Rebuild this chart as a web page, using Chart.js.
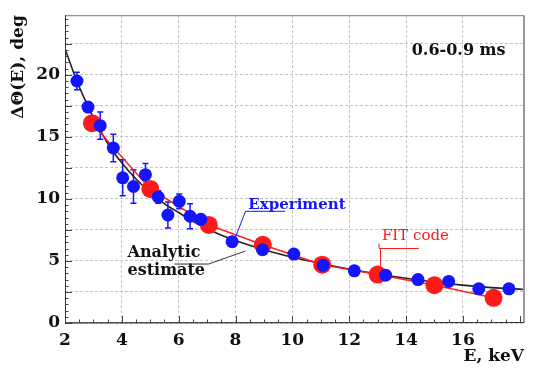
<!DOCTYPE html>
<html>
<head>
<meta charset="utf-8">
<script src="https://cdn.jsdelivr.net/npm/chart.js@4.4.1/dist/chart.umd.min.js"></script>
<style>
  html, body { margin: 0; padding: 0; background: #ffffff; }
  #wrap { width: 541px; height: 374px; }
</style>
</head>
<body>
<div id="wrap"><canvas id="c" width="541" height="374"></canvas></div>
<script>
// ---- data ----
const expE     = [2.42, 2.81, 3.24, 3.70, 4.03, 4.41, 4.83, 5.28, 5.62, 6.02, 6.40, 6.78, 7.88, 8.95, 10.05, 11.08, 12.18, 13.28, 14.42, 15.50, 16.56, 17.62];
const expTheta = [19.5, 17.4, 15.9, 14.1, 11.7, 11.0, 11.95, 10.15, 8.7, 9.8, 8.6, 8.35, 6.55, 5.9, 5.55, 4.65, 4.2, 3.85, 3.5, 3.35, 2.75, 2.75];
const expErr   = [0.7, 0.3, 1.1, 1.1, 1.45, 1.35, 0.9, 0.5, 1.05, 0.6, 1.0, 0.3, 0.2, 0.2, 0.2, 0.2, 0.2, 0.2, 0.2, 0.2, 0.2, 0.2];

const fitE     = [2.95, 5.0, 7.06, 8.96, 11.05, 13.0, 15.0, 17.08];
const fitTheta = [16.1, 10.8, 7.9, 6.3, 4.7, 3.9, 3.05, 2.03];

const anaE     = [2.0, 2.4, 2.8, 3.2, 3.6, 4.0, 4.5, 5.0, 5.5, 6.0, 6.5, 7.0, 7.8, 9.0, 10.0, 11.0, 12.0, 13.0, 14.0, 15.0, 16.0, 17.0, 18.15];
const anaTheta = [22.1, 19.6, 17.5, 15.7, 14.1, 12.9, 11.6, 10.5, 9.6, 8.9, 8.2, 7.6, 6.8, 5.9, 5.3, 4.8, 4.35, 3.95, 3.6, 3.3, 3.05, 2.85, 2.7];

const xTickVals = [2, 4, 6, 8, 10, 12, 14, 16];
const yTickVals = [0, 5, 10, 15, 20];

const xTitle = 'E, keV';
const yTitle = 'ΔΘ(E), deg';
const periodLabel = '0.6-0.9 ms';

const pts = (xs, ys) => xs.map((x, i) => ({ x: x, y: ys[i] }));

const FONT = '"DejaVu Serif", "Liberation Serif", serif';

// error bars + minor ticks + frame + annotations
const decorPlugin = {
  id: 'decor',
  beforeDatasetsDraw(chart) {
    const { ctx, scales: { x, y } } = chart;
    ctx.save();
    ctx.strokeStyle = '#1414ff';
    ctx.lineWidth = 1.5;
    expE.forEach((e, i) => {
      const px = x.getPixelForValue(e);
      const y1 = y.getPixelForValue(expTheta[i] + expErr[i]);
      const y2 = y.getPixelForValue(expTheta[i] - expErr[i]);
      ctx.beginPath();
      ctx.moveTo(px, y1); ctx.lineTo(px, y2);
      ctx.moveTo(px - 3, y1); ctx.lineTo(px + 3, y1);
      ctx.moveTo(px - 3, y2); ctx.lineTo(px + 3, y2);
      ctx.stroke();
    });
    ctx.restore();
  },
  afterDraw(chart) {
    const { ctx, chartArea: a, scales: { x, y } } = chart;
    ctx.save();
    // frame
    ctx.strokeStyle = '#777';
    ctx.lineWidth = 1;
    ctx.strokeRect(a.left + 0.5, a.top + 0.5, a.right - a.left - 1, a.bottom - a.top - 1);
    ctx.strokeStyle = '#999';
    ctx.lineWidth = 2;
    ctx.beginPath(); ctx.moveTo(a.right, a.top); ctx.lineTo(a.right, a.bottom); ctx.stroke();
    ctx.strokeStyle = '#333';
    ctx.lineWidth = 1;
    ctx.beginPath();
    ctx.moveTo(a.left + 0.5, a.top); ctx.lineTo(a.left + 0.5, a.bottom);
    ctx.lineTo(a.right, a.bottom - 0.5);
    ctx.stroke();
    // minor/major ticks inside
    ctx.strokeStyle = '#444';
    ctx.beginPath();
    for (let v = 0; v <= y.max + 1e-6; v += 0.5) {
      const py = Math.round(y.getPixelForValue(v)) + 0.5;
      const major = Math.abs(v / 2.5 - Math.round(v / 2.5)) < 1e-6;
      ctx.moveTo(a.left, py); ctx.lineTo(a.left + (major ? 7 : 3.5), py);
    }
    for (let v = 2; v <= x.max + 1e-6; v += 0.5) {
      const px = Math.round(x.getPixelForValue(v)) + 0.5;
      const major = Math.abs(v / 2 - Math.round(v / 2)) < 1e-6;
      ctx.moveTo(px, a.bottom); ctx.lineTo(px, a.bottom - (major ? 7 : 3.5));
    }
    ctx.stroke();

    // period label
    ctx.fillStyle = '#111';
    ctx.font = 'bold 16px ' + FONT;
    ctx.textBaseline = 'alphabetic';
    ctx.textAlign = 'left';
    ctx.fillText(periodLabel, x.getPixelForValue(14.2), y.getPixelForValue(21.6));

    // Experiment annotation
    ctx.fillStyle = '#1414ff';
    ctx.font = 'bold 15px ' + FONT;
    const ex = x.getPixelForValue(8.45), ey = y.getPixelForValue(9.15);
    ctx.fillText('Experiment', ex, ey);
    ctx.strokeStyle = '#1414ff';
    ctx.lineWidth = 1;
    ctx.beginPath();
    ctx.moveTo(x.getPixelForValue(9.75), y.getPixelForValue(9.0));
    ctx.lineTo(x.getPixelForValue(8.35), y.getPixelForValue(9.0));
    ctx.lineTo(x.getPixelForValue(7.98), y.getPixelForValue(6.8));
    ctx.stroke();

    // Analytic estimate annotation
    ctx.fillStyle = '#111';
    ctx.font = 'bold 16px ' + FONT;
    ctx.fillText('Analytic', x.getPixelForValue(4.2), y.getPixelForValue(5.3));
    ctx.fillText('estimate', x.getPixelForValue(4.2), y.getPixelForValue(3.85));
    ctx.strokeStyle = '#333';
    ctx.lineWidth = 1;
    ctx.beginPath();
    ctx.moveTo(x.getPixelForValue(5.85), y.getPixelForValue(4.75));
    ctx.lineTo(x.getPixelForValue(7.05), y.getPixelForValue(4.75));
    ctx.lineTo(x.getPixelForValue(8.35), y.getPixelForValue(5.8));
    ctx.stroke();

    // FIT code annotation
    ctx.fillStyle = '#ff1a1a';
    ctx.font = '15px ' + FONT;
    ctx.fillText('FIT code', x.getPixelForValue(13.15), y.getPixelForValue(6.7));
    ctx.strokeStyle = '#ff1a1a';
    ctx.beginPath();
    ctx.moveTo(x.getPixelForValue(13.05), y.getPixelForValue(6.4));
    ctx.lineTo(x.getPixelForValue(13.05), y.getPixelForValue(6.0));
    ctx.lineTo(x.getPixelForValue(14.45), y.getPixelForValue(6.0));
    ctx.moveTo(x.getPixelForValue(13.1), y.getPixelForValue(6.0));
    ctx.lineTo(x.getPixelForValue(13.1), y.getPixelForValue(4.6));
    ctx.stroke();
    ctx.restore();
  }
};

new Chart(document.getElementById('c'), {
  type: 'scatter',
  data: {
    datasets: [
      {
        label: 'Experiment',
        data: pts(expE, expTheta),
        showLine: false,
        pointRadius: 6.5,
        pointHoverRadius: 6.5,
        pointBackgroundColor: '#1414ff',
        pointBorderColor: '#1414ff',
        pointBorderWidth: 0,
        order: 0
      },
      {
        label: 'FIT code',
        data: pts(fitE, fitTheta),
        showLine: true,
        borderColor: '#ff2020',
        borderWidth: 1.5,
        tension: 0,
        pointRadius: 9,
        pointHoverRadius: 9,
        pointBackgroundColor: '#ff1a1a',
        pointBorderColor: '#ff1a1a',
        pointBorderWidth: 0,
        order: 1
      },
      {
        label: 'Analytic estimate',
        data: pts(anaE, anaTheta),
        showLine: true,
        borderColor: '#222',
        borderWidth: 1.6,
        cubicInterpolationMode: 'monotone',
        pointRadius: 0,
        pointHoverRadius: 0,
        order: 2
      }
    ]
  },
  options: {
    responsive: false,
    animation: false,
    devicePixelRatio: 1,
    layout: { padding: { top: 7, right: 17, left: 0, bottom: 0 } },
    plugins: {
      legend: { display: false },
      tooltip: { enabled: false }
    },
    scales: {
      x: {
        type: 'linear',
        min: 2,
        max: 18.15,
        afterFit: (s) => { s.height = 51; },
        afterBuildTicks: (s) => { s.ticks = xTickVals.map(v => ({ value: v })); },
        grid: { color: '#c4c4c4', lineWidth: 1, drawTicks: false },
        border: { display: false, dash: [3, 2] },
        ticks: {
          padding: 7,
          color: '#111',
          font: { family: FONT, size: 17, weight: 'bold' },
          maxRotation: 0,
          callback: (v) => String(v)
        },
        title: {
          display: true,
          text: xTitle,
          align: 'end',
          color: '#111',
          font: { family: FONT, size: 17, weight: 'bold' },
          padding: { top: 0, bottom: 7 }
        }
      },
      y: {
        type: 'linear',
        min: 0,
        max: 24.8,
        afterFit: (s) => { s.width = 65; },
        afterBuildTicks: (s) => {
          const t = [];
          for (let v = 0; v <= 22.5; v += 2.5) t.push({ value: v });
          s.ticks = t;
        },
        grid: { color: '#c4c4c4', lineWidth: 1, drawTicks: false },
        border: { display: false, dash: [3, 2] },
        ticks: {
          padding: 5,
          color: '#111',
          font: { family: FONT, size: 17, weight: 'bold' },
          callback: (v) => (yTickVals.includes(v) ? String(v) : '')
        },
        title: {
          display: true,
          text: yTitle,
          align: 'end',
          color: '#111',
          font: { family: FONT, size: 17, weight: 'bold' },
          padding: { top: 8, bottom: 0 }
        }
      }
    }
  },
  plugins: [decorPlugin]
});
</script>
</body>
</html>
